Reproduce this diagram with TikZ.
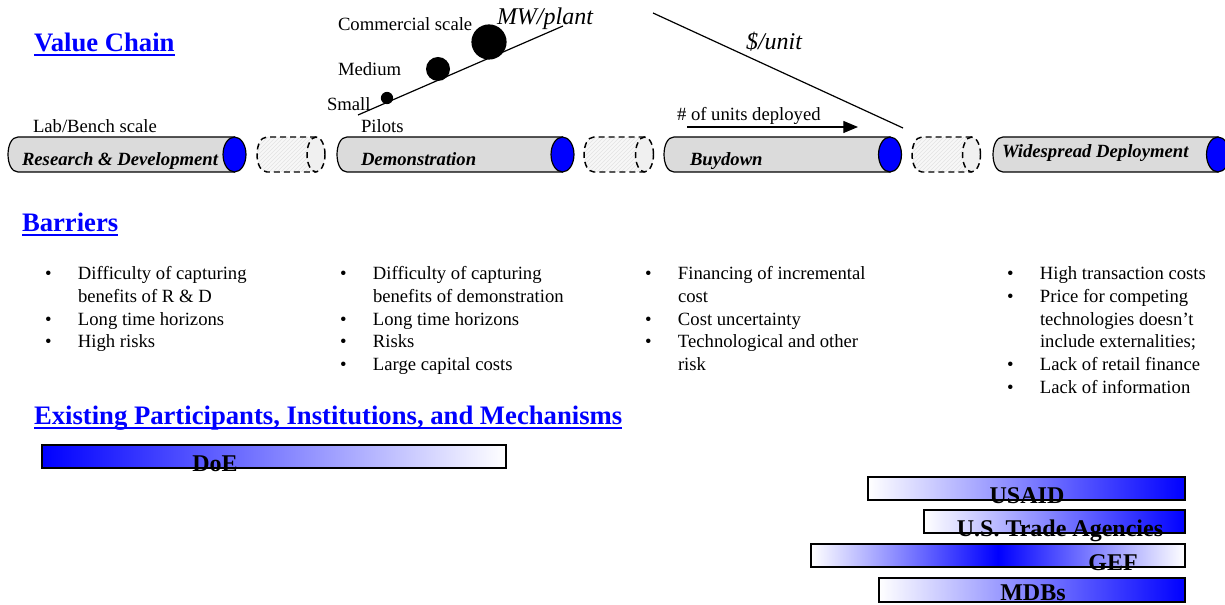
\documentclass[tikz,border=0pt]{standalone}
\usepackage{fontspec}
\setmainfont{Liberation Serif}
\usetikzlibrary{arrows.meta,patterns}
\newcommand{\mybul}{\makebox[24.75pt][l]{•}}
\newcommand{\myind}{\hspace*{24.75pt}}
\newcommand{\mysolidcyl}[2]{%
  \path[cylbody] ({#2},137) -- ({#1+10},137) .. controls ({#1-3.3},137) and ({#1-3.3},172) .. ({#1+10},172) -- ({#2},172) -- cycle;
  \path[cylend] ({#2},154.5) ellipse [x radius=8.6pt, y radius=13.1pt];
}
\newcommand{\mygapcyl}[2]{%
  \fill[gray!6] ({#2},137) -- ({#1+10},137) .. controls ({#1-3.3},137) and ({#1-3.3},172) .. ({#1+10},172) -- ({#2},172) -- cycle;
  \fill[gapbody] ({#2},137) -- ({#1+10},137) .. controls ({#1-3.3},137) and ({#1-3.3},172) .. ({#1+10},172) -- ({#2},172) -- cycle;
  \draw[gapline] ({#2},137) -- ({#1+10},137) .. controls ({#1-3.3},137) and ({#1-3.3},172) .. ({#1+10},172) -- ({#2},172);
  \draw[gapline, fill=gray!12] ({#2},154.5) ellipse [x radius=6.75pt, y radius=13.1pt];
}
\begin{document}
\begin{tikzpicture}[x=0.75pt,y=-0.75pt,
  every node/.style={inner sep=0pt, outer sep=0pt},
  heading/.style={font=\fontsize{20}{24}\selectfont\bfseries, text=blue, anchor=base west},
  uline/.style={blue, line width=1.4pt},
  lbl/.style={font=\fontsize{14}{17}\selectfont, anchor=base west},
  axislabel/.style={font=\fontsize{18}{21}\selectfont\itshape, anchor=base west},
  cyltext/.style={font=\fontsize{14}{17}\selectfont\bfseries\itshape, anchor=base west},
  bullets/.style={font=\fontsize{14}{17}\selectfont, anchor=north west, align=left},
  cylbody/.style={draw=black, fill=gray!28, line width=0.9pt},
  cylend/.style={draw=black, fill=blue, line width=0.9pt},
  gapbody/.style={pattern=north east lines, pattern color=gray!22},
  gapline/.style={draw=black, dash pattern=on 4.5pt off 3pt, line width=1.1pt},
  bar/.style={draw=black, line width=1.1pt},
  barlabel/.style={font=\fontsize{18}{20}\selectfont\bfseries, anchor=base},
  dot/.style={fill=black},
  ax/.style={line width=0.9pt}
]
\useasboundingbox (0,0) rectangle (1225,605);

% headings
\node[heading] (vc) at (34,52) {Value Chain};
\draw[uline] ([yshift=-2.3pt]vc.base west) -- ([yshift=-2.3pt]vc.base east);
\node[heading] (bar) at (22,232) {Barriers};
\draw[uline] ([yshift=-2.3pt]bar.base west) -- ([yshift=-2.3pt]bar.base east);
\node[heading] (ex) at (34,425) {Existing Participants, Institutions, and Mechanisms};
\draw[uline] ([yshift=-2.3pt]ex.base west) -- ([yshift=-2.3pt]ex.base east);

% MW/plant axis
\coordinate (mw1) at (358,115);
\coordinate (mw2) at (563,26);
\draw[ax] (mw1) -- (mw2);
\fill[dot] (387,98) circle [radius=4.6pt];
\fill[dot] (438,69) circle [radius=9pt];
\fill[dot] (489,42) circle [radius=13.2pt];
\node[lbl] (small) at (327,111) {Small};
\node[lbl] (medium) at (338,76) {Medium};
\node[lbl] (comm) at (338,31) {Commercial scale};
\node[axislabel] (mwp) at (497,25) {MW/plant};

% $/unit axis
\coordinate (du1) at (653,13);
\coordinate (du2) at (903,128);
\draw[ax] (du1) -- (du2);
\node[axislabel] (dpu) at (746,50) {\$/unit};

% units deployed arrow
\node[lbl] (units) at (677,121) {\# of units deployed};
\coordinate (ar1) at (687,127);
\coordinate (ar2) at (858,127);
\draw[ax, -{Triangle[length=11pt, width=9pt]}] (ar1) -- (ar2);

% labels above cylinders
\node[lbl] (lab) at (33,133) {Lab/Bench scale};
\node[lbl] (pil) at (361,133) {Pilots};

% cylinders
\mysolidcyl{8}{234.5}
\mygapcyl{257}{316}
\mysolidcyl{337}{562.5}
\mygapcyl{584}{644.5}
\mysolidcyl{664}{890}
\mygapcyl{912}{971.5}
\mysolidcyl{993}{1218}
\node[cyltext] (rd) at (22,166) {Research \& Development};
\node[cyltext] (demo) at (361,166) {Demonstration};
\node[cyltext] (buy) at (690,166) {Buydown};
\node[cyltext] (wide) at (1002,158) {Widespread Deployment};

% barriers
\node[bullets] (b1) at (45,264) {\strut\mybul Difficulty of capturing\\ \strut\myind benefits of R \& D\\ \strut\mybul Long time horizons\\ \strut\mybul High risks};
\node[bullets] (b2) at (340,264) {\strut\mybul Difficulty of capturing\\ \strut\myind benefits of demonstration\\ \strut\mybul Long time horizons\\ \strut\mybul Risks\\ \strut\mybul Large capital costs};
\node[bullets] (b3) at (645,264) {\strut\mybul Financing of incremental\\ \strut\myind cost\\ \strut\mybul Cost uncertainty\\ \strut\mybul Technological and other\\ \strut\myind risk};
\node[bullets] (b4) at (1007,264) {\strut\mybul High transaction costs\\ \strut\mybul Price for competing\\ \strut\myind technologies doesn’t\\ \strut\myind include externalities;\\ \strut\mybul Lack of retail finance\\ \strut\mybul Lack of information};

% participant bars
\draw[bar, left color=blue, right color=white] (42,445) rectangle (506,468);
\node[barlabel] (doe) at (215,472) {DoE};
\draw[bar, left color=white, right color=blue] (868,477) rectangle (1185,500);
\node[barlabel] (usaid) at (1027,504) {USAID};
\draw[bar, left color=white, right color=blue] (924,510) rectangle (1185,533);
\node[barlabel] (trade) at (1060,537) {U.S. Trade Agencies};
\draw[bar, left color=white, right color=white, middle color=blue] (811,544) rectangle (1185,567);
\node[barlabel] (gef) at (1113,571) {GEF};
\draw[bar, left color=white, right color=blue] (879,578) rectangle (1185,602);
\node[barlabel] (mdb) at (1033,601) {MDBs};
\end{tikzpicture}
\end{document}
